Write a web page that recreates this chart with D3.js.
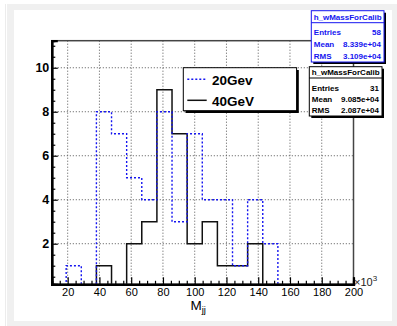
<!DOCTYPE html>
<html><head><meta charset="utf-8">
<script src="https://cdn.jsdelivr.net/npm/d3@7"></script>
<style>body{margin:0;background:#fff}svg{display:block}text{font-family:"Liberation Sans",Arial,sans-serif}</style>
</head><body><svg id="c" width="397" height="326"></svg>
<script>
// Data: 21 bins from 0 to 200 (x 10^3)
const nBins = 21, xLo = 0, xHi = 200;
const series20 = [0,0,1,0,8,7,5,4,8,3,7,4,4,1,4,2,0,0,0,0,0];
const series40 = [0,0,0,0,1,0,2,3,9,7,2,3,1,1,2,0,0,0,0,0,0];
const xMajorTicks = [20,40,60,80,100,120,140,160,180,200];
const yMajorTicks = [2,4,6,8,10];
const legendLabels = ["20Gev","40GeV"];
const stats20 = {title:"h_wMassForCalib", rows:[["Entries","58"],["Mean","8.339e+04"],["RMS","3.109e+04"]]};
const stats40 = {title:"h_wMassForCalib", rows:[["Entries","31"],["Mean","9.085e+04"],["RMS","2.087e+04"]]};

const svg = d3.select("#c");
// canvas background
svg.append("rect").attr("x",0).attr("y",0).attr("width",397).attr("height",326).attr("fill","#fff");
svg.append("rect").attr("x",5).attr("y",4).attr("width",1).attr("height",322).attr("fill","#ececec");
svg.append("rect").attr("x",7).attr("y",4).attr("width",390).attr("height",322).attr("fill","#f0f0f0");
svg.append("rect").attr("x",14).attr("y",10).attr("width",378).attr("height",311).attr("fill","#fff");

const L = 51.8, R = 353.5, T = 40.7, B = 284.3;
const x = d3.scaleLinear().domain([10,200]).range([L,R]);
const y = d3.scaleLinear().domain([0.155,11.23]).range([B,T]);

// grid
const g = svg.append("g");
g.selectAll(".gx").data(xMajorTicks).join("line")
  .attr("x1",d=>x(d)).attr("x2",d=>x(d)).attr("y1",T).attr("y2",B)
  .attr("stroke","#555").attr("stroke-width",1).attr("stroke-dasharray","1,2");
g.selectAll(".gy").data(yMajorTicks).join("line")
  .attr("x1",L).attr("x2",R).attr("y1",d=>y(d)).attr("y2",d=>y(d))
  .attr("stroke","#555").attr("stroke-width",1).attr("stroke-dasharray","1,2");

// histograms
svg.append("clipPath").attr("id","clip").append("rect").attr("x",L).attr("y",T).attr("width",R-L).attr("height",B-T);
const bw = (xHi-xLo)/nBins;
function pts(vals){ const p = vals.map((v,i)=>[xLo+i*bw, v]); p.push([xHi, vals[vals.length-1]]); return [[xLo,0]].concat(p).concat([[xHi,0]]); }
const line = d3.line().x(d=>x(d[0])).y(d=>y(d[1])).curve(d3.curveStepAfter);
const hg = svg.append("g").attr("clip-path","url(#clip)");
hg.append("path").attr("d",line(pts(series40))).attr("fill","none").attr("stroke","#111").attr("stroke-width",1.5);
hg.append("path").attr("d",line(pts(series20))).attr("fill","none").attr("stroke","#1515f0").attr("stroke-width",1.4).attr("stroke-dasharray","2,2");

// frame
svg.append("rect").attr("x",L).attr("y",T).attr("width",R-L).attr("height",B-T).attr("fill","none").attr("stroke","#444").attr("stroke-width",1.5);

// axes
const yMinor = d3.range(0.5,11.01,0.5).filter(v=>v%2!==0);
const xMinor = d3.range(15,200,5).filter(v=>v%20!==0);
svg.append("g").attr("transform",`translate(${L},0)`).call(d3.axisLeft(y).tickValues(yMinor).tickSize(-3.5).tickFormat(""));
const ay2 = svg.append("g").attr("transform",`translate(${L},0)`).call(d3.axisLeft(y).tickValues(yMajorTicks).tickSize(-6).tickPadding(2.5));
svg.append("g").attr("transform",`translate(0,${B})`).call(d3.axisBottom(x).tickValues(xMinor).tickSize(-3.5).tickFormat(""));
const bx2 = svg.append("g").attr("transform",`translate(0,${B})`).call(d3.axisBottom(x).tickValues(xMajorTicks).tickSize(-7).tickPadding(3.5));
svg.selectAll(".domain").attr("stroke","#000").attr("stroke-width",2.2);
svg.selectAll(".tick line").attr("stroke","#000").attr("stroke-width",1.2);
ay2.selectAll("text").attr("font-size",12.5).attr("font-weight","bold").attr("fill","#000").attr("font-family","Liberation Sans, Arial");
bx2.selectAll("text").attr("font-size",11).attr("fill","#000").attr("font-family","Liberation Sans, Arial");

// x10^3
const ex = svg.append("text").attr("x",354).attr("y",286).attr("font-size",11).attr("fill","#222");
ex.append("tspan").text("\u00d710");
ex.append("tspan").attr("dy",-5).attr("font-size",8).text("3");

// axis title
const xt = svg.append("text").attr("x",190.5).attr("y",309.5).attr("font-size",13.5).attr("fill","#000");
xt.append("tspan").text("M");
xt.append("tspan").attr("dy",3.5).attr("font-size",9.5).text("jj");

// legend
const lg = svg.append("g");
lg.append("rect").attr("x",185.5).attr("y",70).attr("width",113.3).attr("height",43).attr("fill","#000");
lg.append("rect").attr("x",183.3).attr("y",67.7).attr("width",113.3).attr("height",43).attr("fill","#fff").attr("stroke","#000").attr("stroke-width",1);
lg.append("line").attr("x1",187.3).attr("x2",206.7).attr("y1",79.3).attr("y2",79.3).attr("stroke","#1515f0").attr("stroke-width",1.4).attr("stroke-dasharray","2,2");
lg.append("line").attr("x1",187.3).attr("x2",206.7).attr("y1",100.3).attr("y2",100.3).attr("stroke","#111").attr("stroke-width",1.5);
lg.append("text").attr("x",212).attr("y",85).attr("font-size",13.5).attr("font-weight","bold").text(legendLabels[0]);
lg.append("text").attr("x",212).attr("y",106).attr("font-size",13.5).attr("font-weight","bold").text(legendLabels[1]);

// stats boxes
function statBox(st, bx, by, w, h, col, rowY, titleY, sepY){
  const s = svg.append("g");
  s.append("rect").attr("x",bx+2).attr("y",by+2).attr("width",w).attr("height",h).attr("fill","#000");
  s.append("rect").attr("x",bx).attr("y",by).attr("width",w).attr("height",h).attr("fill","#fff").attr("stroke",col).attr("stroke-width",1);
  s.append("line").attr("x1",bx).attr("x2",bx+w).attr("y1",sepY).attr("y2",sepY).attr("stroke",col).attr("stroke-width",1);
  s.append("text").attr("x",bx+w/2).attr("y",titleY).attr("text-anchor","middle").attr("font-size",8).attr("font-weight","bold").attr("fill",col).text(st.title);
  st.rows.forEach((r,i)=>{
    s.append("text").attr("x",bx+2.5).attr("y",rowY[i]).attr("font-size",8).attr("font-weight","bold").attr("fill",col).text(r[0]);
    s.append("text").attr("x",bx+w-3).attr("y",rowY[i]).attr("text-anchor","end").attr("font-size",8).attr("font-weight","bold").attr("fill",col).text(r[1]);
  });
}
statBox(stats20, 311.3, 10.7, 72.7, 51.3, "#1515f0", [34.5,46.5,58.5], 20, 22.7);
statBox(stats40, 309.3, 66.7, 72.7, 49.3, "#000", [90.5,102,112.5], 75, 78);
</script></body></html>
